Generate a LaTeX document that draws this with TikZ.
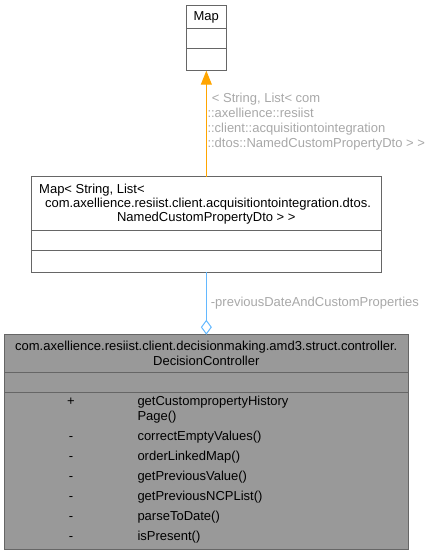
\documentclass[tikz,border=0pt]{standalone}
\usepackage{fontspec}
\setmainfont{Liberation Sans}
\usetikzlibrary{arrows.meta}
\definecolor{boxborder}{HTML}{666666}
\definecolor{boxfill}{HTML}{999999}
\definecolor{lblgray}{HTML}{A8A8A8}
\definecolor{edgeorange}{HTML}{FFA500}
\definecolor{edgeblue}{HTML}{63B8FF}
\tikzset{
  umlbox/.style={draw=boxborder, line width=1pt, anchor=north west, inner sep=0pt, outer sep=0pt},
  divider/.style={draw=boxborder, line width=1pt},
  txt/.style={inner sep=0pt, text height=9.4pt, text depth=2.6pt, font=\fontsize{13}{15}\selectfont, text=black},
  lbl/.style={inner sep=0pt, font=\fontsize{13}{15}\selectfont, text=lblgray, align=left, anchor=north west},
}
\begin{document}
\begin{tikzpicture}[x=1pt,y=-1pt]
\useasboundingbox (0,0) rectangle (433,555);
% Map box
\node[umlbox, fill=white, minimum width=39.3pt, minimum height=65.7pt] (map) at (186.7,5) {};
\draw[divider] (186.7,28.7) -- (226,28.7);
\draw[divider] (186.7,48.7) -- (226,48.7);
\node[txt] (maptxt) at (206.3,17) {Map};
% Middle box
\node[umlbox, fill=white, minimum width=349.3pt, minimum height=95.3pt] (mid) at (31.7,176.7) {};
\draw[divider] (31.7,230.3) -- (381,230.3);
\draw[divider] (31.7,250) -- (381,250);
\node[txt, anchor=west] (mid1) at (39,190) {Map< String, List<};
\node[txt] (mid2) at (208,204.5) {com.axellience.resiist.client.acquisitiontointegration.dtos.};
\node[txt] (mid3) at (206.3,218.5) {NamedCustomPropertyDto > >};
% Bottom box
\node[umlbox, fill=boxfill, minimum width=403.3pt, minimum height=214.6pt] (dc) at (4.7,334.7) {};
\draw[divider] (4.7,372.3) -- (408,372.3);
\draw[divider] (4.7,392.3) -- (408,392.3);
\node[txt] (dc1) at (206.3,347) {com.axellience.resiist.client.decisionmaking.amd3.struct.controller.};
\node[txt] (dc2) at (206.3,362) {DecisionController};
\node[txt] (v1) at (71,401.7) {+};
\node[txt, anchor=west] (m1) at (137.3,401.7) {getCustompropertyHistory};
\node[txt, anchor=west] (m1b) at (137.3,416.7) {Page()};
\node[txt] (v2) at (71,437) {-};
\node[txt, anchor=west] (m2) at (137.3,437) {correctEmptyValues()};
\node[txt] (v3) at (71,457) {-};
\node[txt, anchor=west] (m3) at (137.3,457) {orderLinkedMap()};
\node[txt] (v4) at (71,477) {-};
\node[txt, anchor=west] (m4) at (137.3,477) {getPreviousValue()};
\node[txt] (v5) at (71,497) {-};
\node[txt, anchor=west] (m5) at (137.3,497) {getPreviousNCPList()};
\node[txt] (v6) at (71,517) {-};
\node[txt, anchor=west] (m6) at (137.3,517) {parseToDate()};
\node[txt] (v7) at (71,537) {-};
\node[txt, anchor=west] (m7) at (137.3,537) {isPresent()};
% Edges
\draw[edgeorange, line width=1pt, -{Triangle[length=14pt,width=11pt]}] (mid.north -| map.south) -- (map.south);
\node[lbl] (lblmap) at (207.3,93) {\hspace{4.4pt}< String, List< com\\::axellience::resiist\\::client::acquisitiontointegration\\::dtos::NamedCustomPropertyDto > >};
\draw[edgeblue, line width=1pt, {Diamond[open,length=15pt,width=11pt]}-] (dc.north -| mid.south) -- (mid.south);
\node[lbl, anchor=west] (lbldc) at (210.7,302.7) {-previousDateAndCustomProperties};
\end{tikzpicture}
\end{document}
